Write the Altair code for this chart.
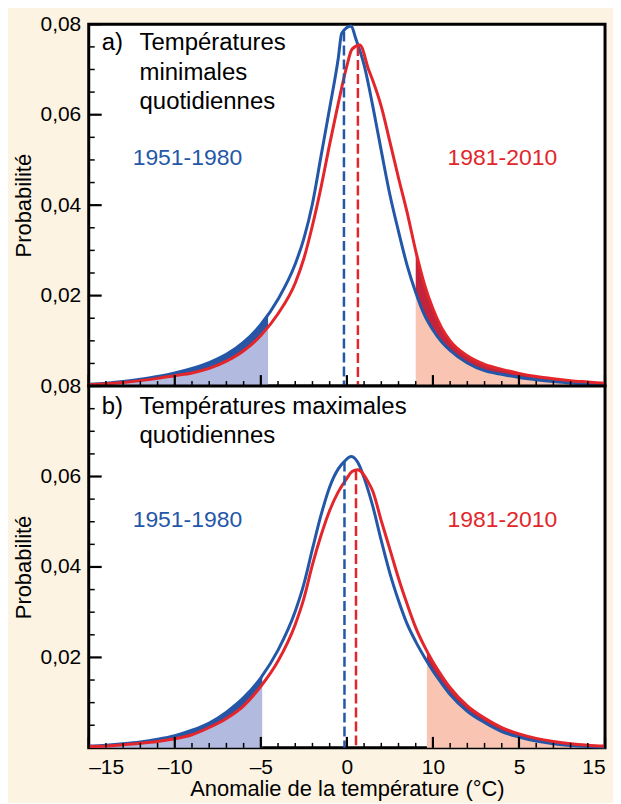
import altair as alt
import pandas as pd
import numpy as np

# ---------------- data ----------------
# Panel a) minimal daily temperatures
a_blue_x = [-15, -14, -13, -12, -11, -10, -9, -8, -7, -6, -5, -4, -3, -2.5, -2, -1.5, -1, -0.5, -0.3,
            0.25, 0.5, 1, 1.5, 2, 2.5, 3, 3.5, 4, 4.5, 5, 5.5, 6, 7, 8, 9, 10, 11, 12, 13, 14, 15]
a_blue_y = [0.0004, 0.0006, 0.0010, 0.0015, 0.0021, 0.0029, 0.0039, 0.0052, 0.0070, 0.0097, 0.0136,
            0.0192, 0.0270, 0.0326, 0.0403, 0.0509, 0.0615, 0.0725, 0.0780, 0.0796, 0.0770, 0.0710,
            0.0620, 0.0520, 0.0423, 0.0342, 0.0267, 0.0207, 0.0158, 0.0124, 0.0098, 0.0079, 0.0051,
            0.0034, 0.0026, 0.0019, 0.0014, 0.0010, 0.0007, 0.0005, 0.0003]
a_red_x = [-15, -14, -13, -12, -11, -10, -9, -8, -7, -6, -5, -4, -3, -2.5, -2, -1.5, -1, -0.5, 0,
           0.3, 0.75, 1.27, 1.5, 2, 2.5, 3, 3.5, 4, 4.5, 5, 5.5, 6, 7, 8, 9, 10, 11, 12, 13, 14, 15]
a_red_y = [0.0003, 0.0005, 0.0008, 0.0012, 0.0017, 0.0023, 0.0029, 0.0039, 0.0055, 0.0078, 0.0112,
           0.0160, 0.0228, 0.0282, 0.0355, 0.0440, 0.0535, 0.0625, 0.0708, 0.0745, 0.0754, 0.0699,
           0.0676, 0.0618, 0.0540, 0.0460, 0.0384, 0.0299, 0.0226, 0.0171, 0.0129, 0.0100, 0.0067,
           0.0048, 0.0037, 0.0028, 0.0021, 0.0016, 0.0012, 0.0009, 0.0006]
a_low_threshold = -4.58
a_high_threshold = 4.0
a_blue_mean = -0.17
a_red_mean = 0.64

# Panel b) maximal daily temperatures
b_blue_x = [-15, -14, -13, -12, -11, -10, -9, -8, -7, -6, -5, -4, -3, -2.5, -2, -1.5, -1, -0.5, -0.15,
            0.25, 0.73, 1, 1.5, 2, 2.5, 3, 3.5, 4, 4.5, 5, 5.5, 6, 7, 8, 9, 10, 11, 12, 13, 14, 15]
b_blue_y = [0.0004, 0.0006, 0.0009, 0.0013, 0.0019, 0.0027, 0.0039, 0.0055, 0.0079, 0.0111, 0.0155,
            0.0216, 0.0302, 0.0362, 0.0440, 0.0515, 0.0577, 0.0617, 0.0633, 0.0644, 0.0624, 0.0597,
            0.0535, 0.0458, 0.0386, 0.0326, 0.0274, 0.0235, 0.0201, 0.0170, 0.0143, 0.0118, 0.0081,
            0.0056, 0.0036, 0.0024, 0.0015, 0.0009, 0.0005, 0.0003, 0.0002]
b_red_x = [-15, -14, -13, -12, -11, -10, -9, -8, -7, -6, -5, -4, -3, -2.5, -2, -1.5, -1, -0.5, 0,
           0.3, 0.63, 1.25, 1.5, 2, 2.5, 3, 3.5, 4, 4.5, 5, 5.5, 6, 7, 8, 9, 10, 11, 12, 13, 14, 15]
b_red_y = [0.0003, 0.0004, 0.0007, 0.0010, 0.0014, 0.0020, 0.0029, 0.0045, 0.0065, 0.0093, 0.0136,
           0.0192, 0.0273, 0.0330, 0.0405, 0.0470, 0.0525, 0.0566, 0.0596, 0.0611, 0.0615, 0.0587,
           0.0568, 0.0502, 0.0439, 0.0375, 0.0318, 0.0266, 0.0225, 0.0190, 0.0160, 0.0133, 0.0093,
           0.0066, 0.0045, 0.0031, 0.0021, 0.0014, 0.0009, 0.0006, 0.0004]
b_low_threshold = -4.92
b_high_threshold = 4.65
b_blue_mean = -0.14
b_red_mean = 0.53

series_names = ["1951-1980", "1981-2010"]
x_tick_values = [-15, -10, -5, 0, 5, 10, 15]
x_tick_labels = ["–15", "–10", "–5", "0", "10", "5", "15"]
y_tick_values = [0.02, 0.04, 0.06, 0.08]
y_tick_labels = ["0,02", "0,04", "0,06", "0,08"]
x_minor_ticks = list(range(-15, 16))
y_minor_ticks = [0.005, 0.01, 0.015, 0.025, 0.03, 0.035, 0.045, 0.05, 0.055, 0.065, 0.07, 0.075]
a_title_lines = ["a)", "Températures", "minimales", "quotidiennes"]
b_title_lines = ["b)", "Températures maximales", "quotidiennes"]
x_title = "Anomalie de la température (°C)"
y_title = "Probabilité"

# ---------------- style ----------------
FONT = "Liberation Sans"
BLUE = "#2457a8"
RED = "#e2262b"
LIGHT_BLUE = "#b3badf"
DARK_BLUE = "#2c55a3"
SALMON = "#f9c4b2"
DARK_RED = "#c3243c"
BG = "#fdf3e2"
W, H = 518, 363

xs = alt.Scale(domain=[-15, 15], nice=False, zero=False)
ys = alt.Scale(domain=[0, 0.08], nice=False, zero=False)


def expr_map(values, labels):
    e = "''"
    for v, l in zip(reversed(values), reversed(labels)):
        e = f"abs(datum.value - ({v})) < 1e-6 ? '{l}' : ({e})"
    return e


x_expr = expr_map(x_tick_values, x_tick_labels)
y_expr = expr_map(y_tick_values, y_tick_labels)


def panel(bx, by, rx, ry, lo, hi, mb, mr, title_lines, bottom):
    if bottom:
        xax = alt.Axis(values=x_tick_values, labelExpr=x_expr, tickSize=0, domain=False, grid=False,
                       labelPadding=9, labelFontSize=21, title=x_title, titleFontSize=22,
                       titlePadding=1, titleFontWeight="normal")
    else:
        xax = None
    yax = alt.Axis(values=y_tick_values, labelExpr=y_expr, tickSize=0, domain=False, grid=False,
                   labelPadding=8, labelFontSize=21, title=y_title, titleFontSize=22,
                   titlePadding=5, titleFontWeight="normal")

    def X(f):
        return alt.X(f, type="quantitative", scale=xs, axis=xax)

    def Y(f):
        return alt.Y(f, type="quantitative", scale=ys, axis=yax)

    bx = np.array(bx, float); by = np.array(by, float)
    rx = np.array(rx, float); ry = np.array(ry, float)

    lines = pd.concat([
        pd.DataFrame({"x": bx, "v": by, "s": series_names[0]}),
        pd.DataFrame({"x": rx, "v": ry, "s": series_names[1]}),
    ])

    lx = np.array(sorted(set([x for x in bx if x < lo]) | {lo}))
    low = pd.DataFrame({"x": lx, "b": np.interp(lx, bx, by), "r": np.interp(lx, rx, ry)})
    hx = np.array(sorted(set([x for x in rx if x > hi]) | {hi}))
    high = pd.DataFrame({"x": hx, "b": np.interp(hx, bx, by), "r": np.interp(hx, rx, ry)})

    means = pd.DataFrame({"x": [mb, mr], "v": [np.interp(mb, bx, by), np.interp(mr, rx, ry)],
                          "z": [0.0, 0.0], "s": series_names})
    cscale = alt.Scale(domain=series_names, range=[BLUE, RED])

    layers = []
    layers.append(alt.Chart(low).mark_area(color=LIGHT_BLUE, interpolate="monotone", opacity=1)
                  .encode(x=X("x"), y=Y("b"), y2=alt.Y2(datum=0)))
    layers.append(alt.Chart(low).mark_area(color=DARK_BLUE, interpolate="monotone", opacity=1)
                  .encode(x=X("x"), y=Y("b"), y2="r"))
    layers.append(alt.Chart(high).mark_area(color=SALMON, interpolate="monotone", opacity=1)
                  .encode(x=X("x"), y=Y("b"), y2=alt.Y2(datum=0)))
    layers.append(alt.Chart(high).mark_area(color=DARK_RED, interpolate="monotone", opacity=1)
                  .encode(x=X("x"), y=Y("r"), y2="b"))
    layers.append(alt.Chart(lines).mark_line(strokeWidth=3, interpolate="monotone")
                  .encode(x=X("x"), y=Y("v"), detail="s:N",
                          color=alt.Color("s:N", scale=cscale, legend=None)))
    layers.append(alt.Chart(means).mark_rule(strokeWidth=2.5, strokeDash=[10, 4])
                  .encode(x=X("x"), y=Y("v"), y2="z",
                          color=alt.Color("s:N", scale=cscale, legend=None)))
    # inward ticks
    xt = pd.DataFrame({"x": x_minor_ticks})
    xt_major = xt[xt["x"] % 5 == 0]
    xt_minor = xt[xt["x"] % 5 != 0]
    layers.append(alt.Chart(xt_minor).mark_rule(color="black", strokeWidth=1.5)
                  .encode(x=X("x"), y=alt.value(H), y2=alt.value(H - 5)))
    layers.append(alt.Chart(xt_major).mark_rule(color="black", strokeWidth=2.2)
                  .encode(x=X("x"), y=alt.value(H), y2=alt.value(H - 11)))
    yt_major = pd.DataFrame({"v": y_tick_values})
    yt_minor = pd.DataFrame({"v": y_minor_ticks})
    layers.append(alt.Chart(yt_minor).mark_rule(color="black", strokeWidth=1.5)
                  .encode(y=Y("v"), x=alt.value(0), x2=alt.value(6)))
    layers.append(alt.Chart(yt_major).mark_rule(color="black", strokeWidth=2.2)
                  .encode(y=Y("v"), x=alt.value(0), x2=alt.value(13)))

    # texts
    base_y = 26 if not bottom else 28
    layers.append(alt.Chart(pd.DataFrame({"t": [title_lines[0]]}))
                  .mark_text(align="left", baseline="alphabetic", font=FONT, fontSize=24, color="black")
                  .encode(x=alt.value(13), y=alt.value(base_y), text="t:N"))
    for i, line in enumerate(title_lines[1:]):
        layers.append(alt.Chart(pd.DataFrame({"t": [line]}))
                      .mark_text(align="left", baseline="alphabetic", font=FONT, fontSize=24, color="black")
                      .encode(x=alt.value(51), y=alt.value(base_y + 29.5 * i), text="t:N"))
    layers.append(alt.Chart(pd.DataFrame({"t": [series_names[0]]}))
                  .mark_text(align="center", baseline="alphabetic", font=FONT, fontSize=23, color=BLUE)
                  .encode(x=alt.value(99), y=alt.value(141), text="t:N"))
    layers.append(alt.Chart(pd.DataFrame({"t": [series_names[1]]}))
                  .mark_text(align="center", baseline="alphabetic", font=FONT, fontSize=23, color=RED)
                  .encode(x=alt.value(415), y=alt.value(141), text="t:N"))

    return alt.layer(*layers).properties(width=W, height=H)


top = panel(a_blue_x, a_blue_y, a_red_x, a_red_y, a_low_threshold, a_high_threshold,
            a_blue_mean, a_red_mean, a_title_lines, False)
bot = panel(b_blue_x, b_blue_y, b_red_x, b_red_y, b_low_threshold, b_high_threshold,
            b_blue_mean, b_red_mean, b_title_lines, True)

chart = alt.vconcat(top, bot, spacing=0, bounds="flush").properties(
    background=BG,
    padding={"left": 2, "top": 2, "right": 0, "bottom": 0},
).configure_view(
    fill="white", stroke="black", strokeWidth=3
).configure_axis(
    labelFont=FONT, titleFont=FONT, labelColor="black", titleColor="black"
)

chart.save("out.html", embed_options={"renderer": "svg", "actions": False})
